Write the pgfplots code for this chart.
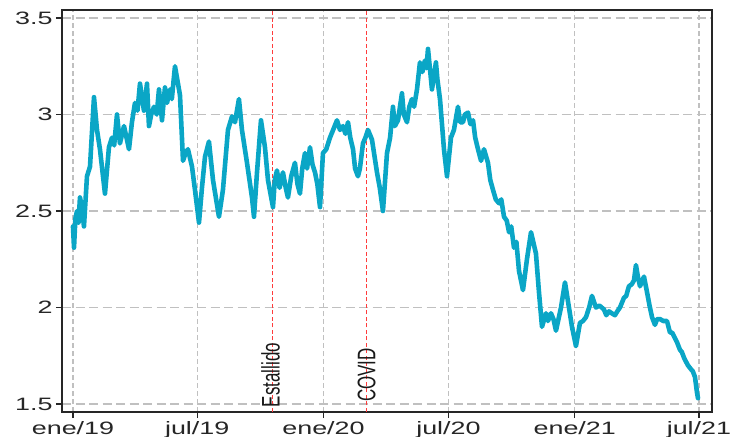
\documentclass[border=0pt]{standalone}
\usepackage{fontspec}
\setmainfont{Liberation Sans}
\usepackage{graphicx}
\usepackage{pgfplots}
\usepackage{pgfplotstable}
\pgfplotsset{compat=1.18}
\definecolor{tealline}{RGB}{10,166,198}
\definecolor{gridg}{RGB}{192,192,192}
\definecolor{redl}{RGB}{255,60,60}
\pgfplotstableread{
day value
0 2.42
1.5 2.31
3.5 2.46
5.8 2.50
8.0 2.44
10.2 2.57
13.0 2.52
16.0 2.42
20.4 2.68
24.8 2.73
30.6 3.09
35.0 2.92
39.3 2.82
46.6 2.59
52.4 2.83
56.8 2.88
60.0 2.84
64.1 3.00
68.4 2.85
74.3 2.94
78.0 2.88
81.6 2.82
85.9 2.96
90.3 3.06
94.0 3.02
97.6 3.16
103.4 3.02
107.8 3.16
110.7 2.94
114.0 3.00
118.0 3.04
122.0 3.00
125.3 3.13
129.7 2.97
134.0 3.14
137.0 3.06
141.3 3.13
144.0 3.08
148.6 3.25
155.9 3.10
160.3 2.76
164.0 2.80
167.5 2.82
173.4 2.73
177.7 2.61
183.6 2.44
187.9 2.62
192.3 2.78
198.1 2.86
204.0 2.66
212.7 2.47
218.5 2.61
225.8 2.92
231.7 2.99
236.0 2.96
241.8 3.08
246.2 2.92
253.5 2.75
260.8 2.57
263.7 2.47
268.1 2.70
273.9 2.97
279.7 2.83
284.1 2.66
291.4 2.52
294.0 2.66
297.2 2.71
301.0 2.62
305.9 2.70
310.0 2.62
313.2 2.57
318.0 2.68
323.4 2.75
327.0 2.64
330.7 2.59
334.0 2.72
338.0 2.80
341.0 2.72
345.3 2.83
349.0 2.74
352.6 2.70
356.0 2.64
359.9 2.52
364.2 2.80
369.0 2.82
374.4 2.88
379.0 2.92
384.6 2.97
389.0 2.92
393.4 2.94
397.0 2.90
400.7 2.96
404.0 2.88
408.0 2.82
411.0 2.72
415.2 2.68
418.0 2.72
422.5 2.85
426.0 2.88
429.8 2.92
435.6 2.87
442.9 2.70
447.0 2.62
451.6 2.50
457.5 2.80
462.0 2.88
466.2 3.04
469.0 2.94
473.5 2.97
479.3 3.11
482.0 3.00
486.6 2.96
490.0 3.04
493.9 3.08
497.0 3.04
501.2 3.13
505.5 3.27
509.0 3.22
512.8 3.28
515.0 3.24
517.2 3.34
520.0 3.24
523.0 3.13
528.8 3.27
531.0 3.18
534.7 3.08
540.5 2.82
544.9 2.68
550.7 2.88
555.0 2.92
560.9 3.04
564.0 2.96
568.2 2.96
571.0 3.00
575.5 3.01
579.0 2.95
582.8 2.97
586.0 2.88
590.1 2.82
594.5 2.76
598.8 2.82
604.6 2.75
608.0 2.66
611.9 2.61
616.0 2.56
620.7 2.54
624.0 2.56
628.0 2.47
632.0 2.45
635.3 2.39
638.5 2.42
642.5 2.31
646.0 2.34
649.8 2.19
655.6 2.09
661.4 2.25
667.3 2.39
674.5 2.28
678.9 2.08
683.3 1.90
689.1 1.97
692.0 1.93
696.4 1.97
700.0 1.94
703.7 1.88
711.0 2.00
716.8 2.13
722.6 2.00
727.0 1.90
732.8 1.80
738.6 1.92
743.0 1.93
747.4 1.95
752.0 2.00
756.1 2.06
761.9 2.00
767.0 2.01
773.6 1.99
777.0 1.96
780.9 1.98
785.0 1.97
789.6 1.96
793.0 1.98
796.9 2.00
802.7 2.05
806.0 2.06
810.0 2.11
814.0 2.12
817.3 2.14
820.2 2.22
823.0 2.16
826.1 2.11
831.9 2.16
836.3 2.08
840.0 2.01
843.6 1.95
847.9 1.91
851.0 1.94
855.2 1.94
860.0 1.93
865.4 1.93
869.8 1.87
873.0 1.87
877.1 1.84
880.0 1.82
884.4 1.78
887.0 1.77
890.2 1.74
893.0 1.72
896.0 1.70
900.4 1.68
903.0 1.67
906.2 1.64
909.1 1.56
910.6 1.53
}\seriesdata
\begin{document}
\begin{tikzpicture}
\useasboundingbox (-62bp,-25bp) rectangle (669bp,412bp);
\begin{axis}[
  scale only axis,
  width=650bp, height=402bp,
  xmin=-16, xmax=931,
  ymin=1.4585, ymax=3.5415,
  xtick={0,181,365,547,731,912},
  xticklabels={\scalebox{1.5}[1]{ene/19},\scalebox{1.5}[1]{jul/19},\scalebox{1.5}[1]{ene/20},\scalebox{1.5}[1]{jul/20},\scalebox{1.5}[1]{ene/21},\scalebox{1.5}[1]{jul/21}},
  ytick={1.5,2,2.5,3,3.5},
  yticklabels={\scalebox{1.5}[1]{1.5},\scalebox{1.5}[1]{2},\scalebox{1.5}[1]{2.5},\scalebox{1.5}[1]{3},\scalebox{1.5}[1]{3.5}},
  tick align=outside,
  tick pos=left,
  major tick length=6bp,
  grid=major,
  x grid style={gridg, line width=1.1bp, dash pattern=on 5bp off 3bp},
  y grid style={gridg, line width=1.1bp, dash pattern=on 9bp off 4.5bp},
  axis line style={black!85, line width=1.4bp},
  tick style={black!85, line width=1.2bp},
  tick label style={font=\fontsize{18}{20}\selectfont, text=black!85},
]
\addplot[redl, line width=1.3bp, dash pattern=on 4bp off 2.5bp] coordinates {(291,1.4585) (291,3.5415)};
\addplot[redl, line width=1.3bp, dash pattern=on 4bp off 2.5bp] coordinates {(428,1.4585) (428,3.5415)};
\addplot[tealline, line width=4.6bp, line join=round, line cap=round] table[x=day, y=value] {\seriesdata};
\node[rotate=90, font=\fontsize{17}{19}\selectfont, text=black!90] at (axis cs:288,1.65) {\scalebox{1}[1.5]{Estallido}};
\node[rotate=90, font=\fontsize{17}{19}\selectfont, text=black!90] at (axis cs:428,1.65) {\scalebox{1}[1.5]{COVID}};
\end{axis}
\end{tikzpicture}
\end{document}
